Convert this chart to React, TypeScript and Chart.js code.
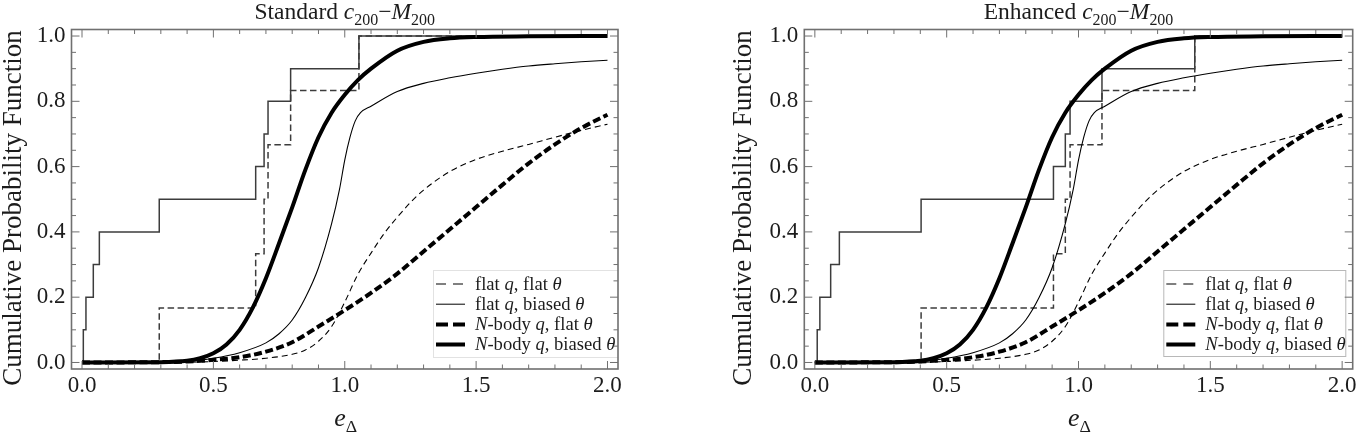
import React, { useEffect, useRef } from "react";
import { Chart, registerables } from "chart.js";

Chart.register(...registerables);

// ---- Model CDFs (identical in both panels) ----
// flat q, flat θ  (thin dashed)
const FLAT_FLAT_X = [0, 0.4, 0.5, 0.6, 0.7, 0.8, 0.85, 0.9, 0.95, 1.0, 1.05, 1.1, 1.15, 1.2, 1.25, 1.3, 1.4, 1.5, 1.6, 1.7, 1.8, 1.9, 2.0];
const FLAT_FLAT_Y = [0, 0.001, 0.003, 0.007, 0.013, 0.025, 0.038, 0.065, 0.11, 0.185, 0.27, 0.335, 0.395, 0.445, 0.49, 0.528, 0.585, 0.622, 0.647, 0.668, 0.69, 0.711, 0.73];
// flat q, biased θ  (thin solid)
const FLAT_BIASED_X = [0, 0.4, 0.5, 0.6, 0.7, 0.75, 0.8, 0.85, 0.9, 0.95, 0.98, 1.0, 1.02, 1.04, 1.06, 1.1, 1.2, 1.3, 1.4, 1.5, 1.6, 1.7, 1.8, 1.9, 2.0];
const FLAT_BIASED_Y = [0, 0.004, 0.013, 0.03, 0.06, 0.088, 0.13, 0.198, 0.29, 0.425, 0.53, 0.62, 0.69, 0.74, 0.765, 0.785, 0.83, 0.855, 0.872, 0.886, 0.898, 0.908, 0.915, 0.921, 0.926];
// N-body q, flat θ  (thick dashed)
const NBODY_FLAT_X = [0, 0.3, 0.4, 0.5, 0.6, 0.7, 0.8, 0.9, 1.0, 1.1, 1.2, 1.3, 1.4, 1.5, 1.6, 1.7, 1.8, 1.9, 2.0];
const NBODY_FLAT_Y = [0, 0.001, 0.003, 0.008, 0.016, 0.033, 0.062, 0.11, 0.16, 0.213, 0.272, 0.34, 0.408, 0.476, 0.544, 0.61, 0.668, 0.718, 0.759];
// N-body q, biased θ  (thick solid)
const NBODY_BIASED_X = [0, 0.3, 0.4, 0.45, 0.5, 0.55, 0.6, 0.65, 0.7, 0.75, 0.8, 0.85, 0.9, 0.95, 1.0, 1.05, 1.1, 1.2, 1.3, 1.4, 1.5, 1.7, 2.0];
const NBODY_BIASED_Y = [0, 0.001, 0.005, 0.013, 0.028, 0.055, 0.1, 0.168, 0.258, 0.365, 0.475, 0.59, 0.69, 0.765, 0.82, 0.865, 0.9, 0.955, 0.982, 0.993, 0.997, 0.999, 1.0];

// ---- Observed clusters: empirical CDF steps ----
const STD_ALL_X = [0.005, 0.015, 0.043, 0.066, 0.294, 0.661, 0.693, 0.708, 0.794, 1.054];
const STD_ALL_Y = [0.1, 0.2, 0.3, 0.4, 0.5, 0.6, 0.7, 0.8, 0.9, 1.0];
const STD_SUB_X = [0.294, 0.661, 0.693, 0.708, 0.794, 1.054];
const STD_SUB_Y = [0.1667, 0.3333, 0.5, 0.6667, 0.8333, 1.0];

const ENH_ALL_X = [0.009, 0.019, 0.06, 0.093, 0.403, 0.905, 0.95, 0.968, 1.089, 1.441];
const ENH_ALL_Y = [0.1, 0.2, 0.3, 0.4, 0.5, 0.6, 0.7, 0.8, 0.9, 1.0];
const ENH_SUB_X = [0.403, 0.905, 0.95, 0.968, 1.089, 1.441];
const ENH_SUB_Y = [0.1667, 0.3333, 0.5, 0.6667, 0.8333, 1.0];

// ---- Axes ----
const X_TICKS = [0, 0.5, 1.0, 1.5, 2.0];
const Y_TICKS = [0, 0.2, 0.4, 0.6, 0.8, 1.0];
const X_MIN = -0.04, X_MAX = 2.04;
const Y_MIN = -0.02, Y_MAX = 1.02;

const SERIF = '"Liberation Serif", "Times New Roman", Times, serif';
const FRAME = "#707070";
const STEP = "#3c3c3c";
const TEXT = "#1c1c1c";

type Seg = { t: string; it?: boolean; sub?: boolean };

const LEGEND_ITEMS: { segs: Seg[]; width: number; dash: number[] }[] = [
  { segs: [{ t: "flat " }, { t: "q", it: true }, { t: ", flat " }, { t: "θ", it: true }], width: 1, dash: [10, 7] },
  { segs: [{ t: "flat " }, { t: "q", it: true }, { t: ", biased " }, { t: "θ", it: true }], width: 1, dash: [] },
  { segs: [{ t: "N", it: true }, { t: "-body " }, { t: "q", it: true }, { t: ", flat " }, { t: "θ", it: true }], width: 4, dash: [12, 5] },
  { segs: [{ t: "N", it: true }, { t: "-body " }, { t: "q", it: true }, { t: ", biased " }, { t: "θ", it: true }], width: 4, dash: [] },
];

type PanelCfg = {
  name: string;
  left: number;
  width: number;
  plotLeft: number;
  plotRight: number;
  allX: number[];
  allY: number[];
  subX: number[];
  subY: number[];
  legend: { x: number; y: number; w: number; h: number; border: string };
  yLabelX: number;
};

const PANELS: PanelCfg[] = [
  {
    name: "Standard",
    left: 0,
    width: 682,
    plotLeft: 71.5,
    plotRight: 618,
    allX: STD_ALL_X,
    allY: STD_ALL_Y,
    subX: STD_SUB_X,
    subY: STD_SUB_Y,
    legend: { x: 433, y: 270, w: 190, h: 87, border: "#e2e2e2" },
    yLabelX: 13.5,
  },
  {
    name: "Enhanced",
    left: 682,
    width: 683,
    plotLeft: 122.3,
    plotRight: 670.7,
    allX: ENH_ALL_X,
    allY: ENH_ALL_Y,
    subX: ENH_SUB_X,
    subY: ENH_SUB_Y,
    legend: { x: 481.3, y: 270, w: 182, h: 86, border: "#b8b8b8" },
    yLabelX: 62,
  },
];

const PLOT_TOP = 29.5;
const PLOT_BOTTOM = 369;
const H = 437;

function fontOf(seg: Seg, size: number) {
  const s = seg.sub ? size * 0.68 : size;
  return `${seg.it ? "italic " : ""}${s}px ${SERIF}`;
}

function drawRich(ctx: CanvasRenderingContext2D, segs: Seg[], x: number, y: number, size: number, align: "left" | "center") {
  const widths = segs.map((s) => {
    ctx.font = fontOf(s, size);
    return ctx.measureText(s.t).width;
  });
  const total = widths.reduce((a, b) => a + b, 0);
  let cx = align === "center" ? x - total / 2 : x;
  ctx.textAlign = "left";
  ctx.textBaseline = "alphabetic";
  segs.forEach((s, i) => {
    ctx.font = fontOf(s, size);
    ctx.fillText(s.t, cx, s.sub ? y + size * 0.24 : y);
    cx += widths[i];
  });
}

function pts(xs: number[], ys: number[]) {
  return xs.map((x, i) => ({ x, y: ys[i] }));
}

function makeDecor(cfg: PanelCfg) {
  return {
    id: "panelDecor" + cfg.name,
    afterDatasetsDraw(chart: Chart) {
      const { ctx, chartArea: a } = chart;
      const xs = chart.scales.x;
      const ys = chart.scales.y;
      ctx.save();

      // legend box
      ctx.beginPath();
      ctx.rect(a.left, a.top, a.right - a.left, a.bottom - a.top);
      ctx.clip();
      const L = cfg.legend;
      ctx.fillStyle = "#ffffff";
      ctx.fillRect(L.x, L.y, L.w, L.h);
      ctx.strokeStyle = L.border;
      ctx.lineWidth = 1;
      ctx.strokeRect(L.x + 0.5, L.y + 0.5, L.w, L.h);
      const rowH = 20.2;
      LEGEND_ITEMS.forEach((it, i) => {
        const cy = L.y + 14 + i * rowH;
        ctx.strokeStyle = "#000";
        ctx.lineWidth = it.width;
        ctx.setLineDash(it.dash);
        ctx.beginPath();
        ctx.moveTo(L.x + 3, cy);
        ctx.lineTo(L.x + 32, cy);
        ctx.stroke();
        ctx.setLineDash([]);
        ctx.fillStyle = TEXT;
        drawRich(ctx, it.segs, L.x + 42, cy + 5.5, 18.6, "left");
      });
      ctx.restore();

      ctx.save();
      // frame
      ctx.strokeStyle = FRAME;
      ctx.lineWidth = 1.6;
      ctx.strokeRect(a.left, a.top, a.right - a.left, a.bottom - a.top);

      // inward ticks on all four sides
      ctx.lineWidth = 1;
      const xTick = (v: number, len: number) => {
        const p = xs.getPixelForValue(v);
        ctx.beginPath();
        ctx.moveTo(p, a.bottom);
        ctx.lineTo(p, a.bottom - len);
        ctx.moveTo(p, a.top);
        ctx.lineTo(p, a.top + len);
        ctx.stroke();
      };
      const yTick = (v: number, len: number) => {
        const p = ys.getPixelForValue(v);
        ctx.beginPath();
        ctx.moveTo(a.left, p);
        ctx.lineTo(a.left + len, p);
        ctx.moveTo(a.right, p);
        ctx.lineTo(a.right - len, p);
        ctx.stroke();
      };
      for (let k = 0; k <= 20; k++) xTick(k / 10, k % 5 === 0 ? 8 : 4.5);
      for (let k = 0; k <= 20; k++) yTick(k / 20, k % 4 === 0 ? 8 : 4.5);
      ctx.restore();
    },
    afterDraw(chart: Chart) {
      const { ctx, chartArea: a } = chart;
      const cx = (a.left + a.right) / 2;
      ctx.save();
      ctx.fillStyle = TEXT;
      // title
      drawRich(
        ctx,
        [
          { t: cfg.name + " " },
          { t: "c", it: true },
          { t: "200", sub: true },
          { t: "−" },
          { t: "M", it: true },
          { t: "200", sub: true },
        ],
        cx,
        19,
        23.5,
        "center"
      );
      // x-axis label
      drawRich(ctx, [{ t: "e", it: true }, { t: "Δ", sub: true }], cx + 1, 426, 26, "center");
      // y-axis label
      ctx.translate(cfg.yLabelX, 208);
      ctx.rotate(-Math.PI / 2);
      ctx.font = `27px ${SERIF}`;
      ctx.textAlign = "center";
      ctx.textBaseline = "middle";
      ctx.fillText("Cumulative Probability Function", 0, 0);
      ctx.restore();
    },
  };
}

function Panel({ cfg }: { cfg: PanelCfg }) {
  const ref = useRef<HTMLCanvasElement>(null);

  useEffect(() => {
    const canvas = ref.current;
    if (!canvas) return;
    const curve = (xs: number[], ys: number[], width: number, dash: number[]) => ({
      data: pts(xs, ys),
      borderColor: "#000",
      borderWidth: width,
      borderDash: dash,
      pointRadius: 0,
      fill: false,
      cubicInterpolationMode: "monotone" as const,
    });
    const step = (xs: number[], ys: number[], dash: number[]) => ({
      data: [{ x: 0, y: 0 }, ...pts(xs, ys), { x: 2.0, y: 1.0 }],
      borderColor: STEP,
      borderWidth: 1.5,
      borderDash: dash,
      pointRadius: 0,
      fill: false,
      stepped: "before" as const,
    });

    const chart = new Chart(canvas, {
      type: "line",
      data: {
        datasets: [
          curve(NBODY_BIASED_X, NBODY_BIASED_Y, 4, []),
          curve(NBODY_FLAT_X, NBODY_FLAT_Y, 4, [8, 3.5]),
          curve(FLAT_BIASED_X, FLAT_BIASED_Y, 1.1, []),
          curve(FLAT_FLAT_X, FLAT_FLAT_Y, 1.1, [6, 4]),
          step(cfg.allX, cfg.allY, []),
          step(cfg.subX, cfg.subY, [6.5, 3.5]),
        ] as any,
      },
      options: {
        animation: false,
        responsive: false,
        events: [],
        layout: {
          padding: { left: 0, top: PLOT_TOP, right: cfg.width - cfg.plotRight, bottom: 0 },
        },
        plugins: {
          legend: { display: false },
          tooltip: { enabled: false },
          title: { display: false },
        },
        scales: {
          x: {
            type: "linear",
            min: X_MIN,
            max: X_MAX,
            grid: { display: false, drawTicks: false },
            border: { display: false },
            afterFit: (s: any) => {
              s.height = H - PLOT_BOTTOM;
            },
            afterBuildTicks: (s: any) => {
              s.ticks = X_TICKS.map((v) => ({ value: v }));
            },
            ticks: {
              padding: 3,
              color: TEXT,
              font: { family: SERIF, size: 23 },
              maxRotation: 0,
              callback: (v: any) => Number(v).toFixed(1),
            },
          },
          y: {
            type: "linear",
            min: Y_MIN,
            max: Y_MAX,
            grid: { display: false, drawTicks: false },
            border: { display: false },
            afterFit: (s: any) => {
              s.width = cfg.plotLeft;
            },
            afterBuildTicks: (s: any) => {
              s.ticks = Y_TICKS.map((v) => ({ value: v }));
            },
            ticks: {
              padding: 6,
              color: TEXT,
              font: { family: SERIF, size: 23 },
              callback: (v: any) => Number(v).toFixed(1),
            },
          },
        },
      },
      plugins: [makeDecor(cfg)],
    } as any);
    return () => chart.destroy();
  }, [cfg]);

  return (
    <canvas
      ref={ref}
      width={cfg.width}
      height={H}
      style={{ position: "absolute", left: cfg.left, top: 0, width: cfg.width, height: H, display: "block" }}
    />
  );
}

export default function App() {
  return (
    <div style={{ position: "fixed", left: 0, top: 0, width: 1365, height: H, background: "#fff", overflow: "hidden" }}>
      {PANELS.map((p) => (
        <Panel key={p.name} cfg={p} />
      ))}
    </div>
  );
}
